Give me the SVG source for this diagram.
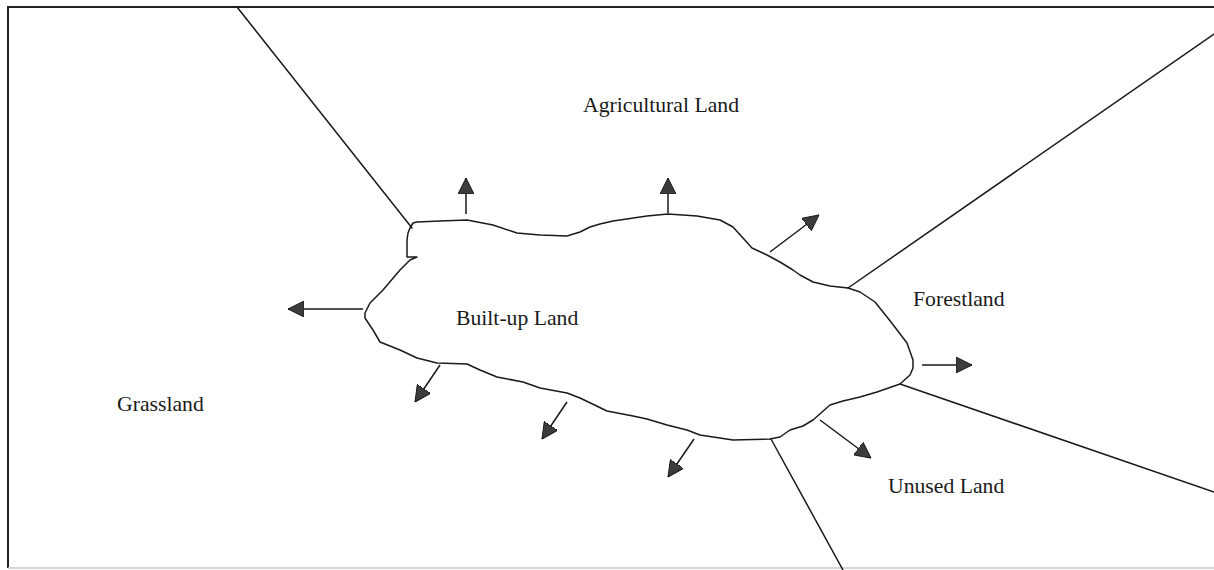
<svg xmlns="http://www.w3.org/2000/svg" width="1214" height="570" viewBox="0 0 1214 570">
<style>
.ln{fill:none;stroke:#1a1a1a;stroke-width:1.5;stroke-linejoin:round;stroke-linecap:round}
.ar{fill:none;stroke:#1a1a1a;stroke-width:1.5}
.lbl{font-family:"Liberation Serif","Times New Roman",serif;font-size:21.7px;fill:#1a1a1a}
</style>
<defs>
<marker id="ah" viewBox="0 0 16 16" refX="16" refY="8" markerWidth="16" markerHeight="16" markerUnits="userSpaceOnUse" orient="auto">
<path d="M0,0 L16,8 L0,16 z" fill="#3c3c3c" stroke="#1a1a1a" stroke-width="1"/>
</marker>
</defs>
<rect width="1214" height="570" fill="#ffffff"/>
<g id="frame">
<path d="M1214,7 H8 V568" fill="none" stroke="#222" stroke-width="2"/>
<path d="M8,568 H1214" fill="none" stroke="#c8c8c8" stroke-width="1.5"/>
</g>
<g id="boundaries">
<path class="ln" d="M237,7 L412,228"/>
<path class="ln" d="M1214,34 L848,288"/>
<path class="ln" d="M900,384 L1214,492"/>
<path class="ln" d="M771,439 L843,570"/>
</g>
<g id="built-up">
<path class="ln" d="M413,223 L417,222 L440,221 L467,220 L493,225 L517,233 L540,235 L567,236 L580,232 L590,227 L600,224 L613,221 L647,216 L668,214 L697,216 L720,220 L733,227 L743,238 L752,248 L767,255 L780,262 L793,270 L800,275 L813,282 L830,286 L848,288 L860,292 L875,302 L891,322 L907,343 L913,360 L913,368 L910,375 L900,384 L877,392 L860,397 L843,401 L830,405 L813,420 L803,426 L790,430 L780,437 L770,439 L733,440 L700,435 L687,430 L667,425 L647,419 L633,416 L607,411 L580,398 L567,393 L540,388 L523,382 L497,377 L480,370 L467,364 L437,363 L417,358 L400,350 L380,342 L373,330 L365,318 L365,313 L370,303 L383,290 L400,270 L410,260 L417,257 L407,257 L407,240 L408,233 L410,228 Z"/>
<text class="lbl" x="456" y="325">Built-up Land</text>
</g>
<g id="agricultural"><text class="lbl" x="583" y="112">Agricultural Land</text></g>
<g id="forestland"><text class="lbl" x="913" y="306">Forestland</text></g>
<g id="grassland"><text class="lbl" x="117" y="411">Grassland</text></g>
<g id="unused"><text class="lbl" x="888" y="493">Unused Land</text></g>
<g id="connectors">
<line class="ar" x1="466" y1="214" x2="466" y2="178" marker-end="url(#ah)"/>
<line class="ar" x1="668" y1="213" x2="668" y2="178" marker-end="url(#ah)"/>
<line class="ar" x1="770" y1="252" x2="819" y2="215" marker-end="url(#ah)"/>
<line class="ar" x1="922" y1="365" x2="972" y2="365" marker-end="url(#ah)"/>
<line class="ar" x1="820" y1="420" x2="871" y2="458" marker-end="url(#ah)"/>
<line class="ar" x1="440" y1="365" x2="415" y2="402" marker-end="url(#ah)"/>
<line class="ar" x1="567" y1="402" x2="542" y2="439" marker-end="url(#ah)"/>
<line class="ar" x1="694" y1="439" x2="668" y2="477" marker-end="url(#ah)"/>
<line class="ar" x1="363" y1="309" x2="288" y2="309" marker-end="url(#ah)"/>
</g>
</svg>
